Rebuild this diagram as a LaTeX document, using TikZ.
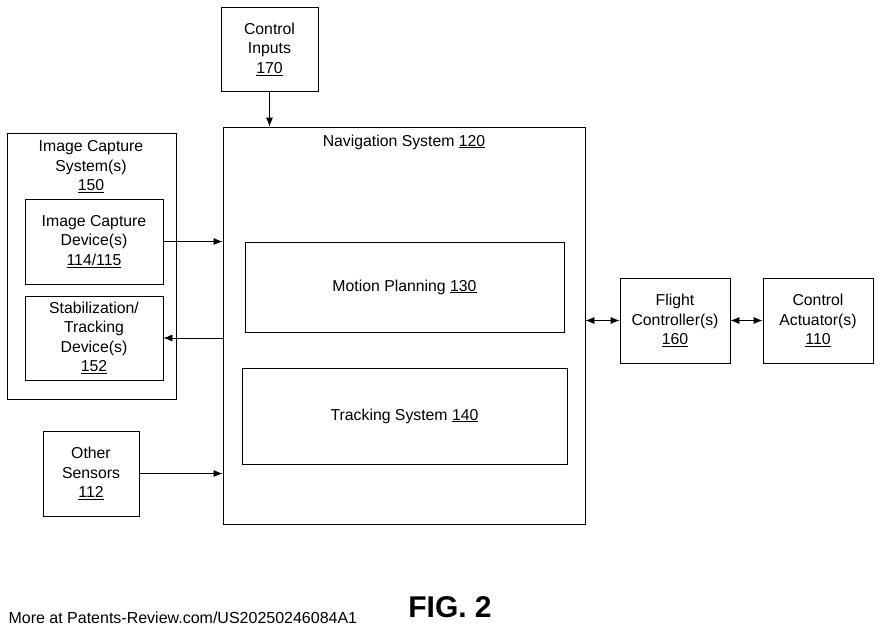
\documentclass[tikz,border=0pt]{standalone}
\usepackage{fontspec}
\setmainfont{Liberation Sans}
\usetikzlibrary{arrows.meta}
\begin{document}
\begin{tikzpicture}[x=1pt,y=-1pt,
  box/.style={draw,line width=0.8pt,align=center,inner sep=0pt,font=\fontsize{15.8}{19.5}\selectfont},
  arr/.style={-{Latex[length=9pt,width=7pt]},line width=0.8pt},
  darr/.style={{Latex[length=9pt,width=7pt]}-{Latex[length=9pt,width=7pt]},line width=0.8pt}]
\useasboundingbox (0,0) rectangle (880,635);
\newcommand{\bx}[7]{\node[box,minimum width=#4-#2,minimum height=#5-#3,#6] (#1) at ({(#2+#4)/2},{(#3+#5)/2}) {#7};}
\bx{ci}{221}{7}{318}{91}{}{Control\\Inputs\\\underline{170}}
\bx{nav}{223}{127}{585}{524}{}{}
\node[font=\fontsize{15.8}{19.5}\selectfont] (navt) at (404,142) {Navigation System \underline{120}};
\bx{ics}{7}{133}{176}{399}{}{}
\node[font=\fontsize{15.8}{19.5}\selectfont,align=center] (icst) at (91,167) {Image Capture\\System(s)\\\underline{150}};
\bx{icd}{25}{199}{163}{284}{}{Image Capture\\Device(s)\\\underline{114/115}}
\bx{stab}{25}{296}{163}{380}{}{Stabilization/\\Tracking\\Device(s)\\\underline{152}}
\bx{mp}{245}{242}{564}{332}{}{Motion Planning \underline{130}}
\bx{ts}{242}{368}{567}{464}{}{Tracking System \underline{140}}
\bx{os}{43}{431}{139}{516}{}{Other\\Sensors\\\underline{112}}
\bx{fc}{620}{278}{730}{363}{}{Flight\\Controller(s)\\\underline{160}}
\bx{ca}{763}{278}{873}{363}{}{Control\\Actuator(s)\\\underline{110}}
\draw[arr] (ci.south) -- (ci.south |- nav.north);
\draw[arr] (icd.east) -- (icd.east -| nav.west);
\draw[arr] (stab.east -| nav.west) -- (stab.east);
\draw[arr] (os.east) -- (os.east -| nav.west);
\draw[darr] (fc.west -| nav.east) -- (fc.west);
\draw[darr] (fc.east) -- (ca.west);
\node[anchor=west,font=\fontsize{16}{19}\selectfont] (foot) at (5,618) {More at Patents-Review.com/US20250246084A1};
\node[font=\bfseries\fontsize{30}{33}\selectfont] (fig) at (450,607) {FIG. 2};
\end{tikzpicture}
\end{document}
